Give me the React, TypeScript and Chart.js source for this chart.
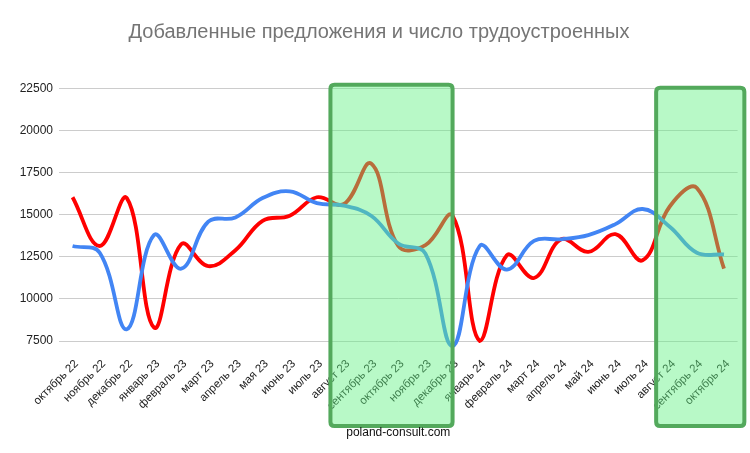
import React, { useEffect, useRef } from "react";
import { Chart, registerables } from "chart.js";

Chart.register(...registerables);

const TITLE = "Добавленные предложения и число трудоустроенных";
const CAPTION = "poland-consult.com";

const categories = [
  "октябрь 22", "ноябрь 22", "декабрь 22", "январь 23", "февраль 23", "март 23",
  "апрель 23", "мая 23", "июнь 23", "июль 23", "август 23", "сентябрь 23",
  "октябрь 23", "ноябрь 23", "декабрь 23", "январь 24", "февраль 24", "март 24",
  "апрель 24", "май 24", "июнь 24", "июль 24", "август 24", "сентябрь 24", "октябрь 24",
];

const offersAdded = [
  13150, 12750, 8200, 13800, 11800, 14600, 14850, 16000, 16400, 15700, 15550, 14950,
  13300, 12700, 7200, 13150, 11750, 13450, 13550, 13800, 14450, 15350, 14300, 12750, 12650,
];

const employed = [
  16050, 13150, 16000, 8300, 13250, 11950, 12900, 14650, 14950, 16050, 15650, 18050,
  13150, 13200, 14950, 7500, 12600, 11250, 13550, 12800, 13850, 12300, 15500, 16600, 11800,
];

const yTicks = [7500, 10000, 12500, 15000, 17500, 20000, 22500];

// highlighted ranges, in category-index units
const highlights = [
  { from: 9.5, to: 14.0, topOffset: 4 },
  { from: 21.5, to: 24.75, topOffset: 1 },
];

const FONT = "'Liberation Sans', Arial, sans-serif";

function roundRect(ctx: CanvasRenderingContext2D, x: number, y: number, w: number, h: number, r: number) {
  ctx.beginPath();
  ctx.moveTo(x + r, y);
  ctx.lineTo(x + w - r, y);
  ctx.quadraticCurveTo(x + w, y, x + w, y + r);
  ctx.lineTo(x + w, y + h - r);
  ctx.quadraticCurveTo(x + w, y + h, x + w - r, y + h);
  ctx.lineTo(x + r, y + h);
  ctx.quadraticCurveTo(x, y + h, x, y + h - r);
  ctx.lineTo(x, y + r);
  ctx.quadraticCurveTo(x, y, x + r, y);
  ctx.closePath();
}

const overlayPlugin = {
  id: "overlay",
  afterDraw(chart: any) {
    const ctx = chart.ctx as CanvasRenderingContext2D;
    const xs = chart.scales.x;
    const area = chart.chartArea;
    const step = xs.getPixelForValue(1) - xs.getPixelForValue(0);
    const x0 = xs.getPixelForValue(0);
    ctx.save();
    for (const h of highlights) {
      const left = x0 + h.from * step;
      const right = x0 + h.to * step;
      const top = area.top - h.topOffset;
      const bottom = chart.height - 27;
      roundRect(ctx, left, top, right - left, bottom - top, 4);
      ctx.fillStyle = "rgba(97,242,130,0.45)";
      ctx.fill();
      ctx.lineWidth = 4;
      ctx.strokeStyle = "#53a95c";
      ctx.stroke();
    }
    // title
    ctx.fillStyle = "#757575";
    ctx.font = "20px " + FONT;
    ctx.textAlign = "center";
    ctx.textBaseline = "middle";
    ctx.fillText(TITLE, chart.width / 2 + 4, 32);
    // caption
    ctx.fillStyle = "#111";
    ctx.font = "12px " + FONT;
    ctx.fillText(CAPTION, (area.left + area.right) / 2, chart.height - 20);
    ctx.restore();
  },
};

export default function App() {
  const ref = useRef<HTMLCanvasElement | null>(null);

  useEffect(() => {
    if (!ref.current) return;
    const chart = new Chart(ref.current, {
      type: "line",
      data: {
        labels: categories,
        datasets: [
          {
            label: "Добавленные предложения",
            data: offersAdded,
            borderColor: "#4285f4",
            borderWidth: 3.8,
            pointRadius: 0,
            tension: 0.4,
            fill: false,
            clip: false as any,
          },
          {
            label: "Трудоустроенные",
            data: employed,
            borderColor: "#ff0000",
            borderWidth: 3.8,
            pointRadius: 0,
            tension: 0.4,
            fill: false,
            clip: false as any,
          },
        ],
      },
      options: {
        responsive: false,
        animation: false,
        layout: { padding: { left: 0, right: 12, top: 0, bottom: 0 } },
        plugins: {
          legend: { display: false },
          tooltip: { enabled: false },
          title: {
            display: true,
            text: TITLE,
            color: "rgba(0,0,0,0)",
            font: { family: FONT, size: 19, weight: "normal" as any },
            padding: { top: 21, bottom: 45 },
          },
        },
        scales: {
          x: {
            offset: true,
            grid: { display: false, drawTicks: false },
            border: { display: false },
            ticks: {
              autoSkip: false,
              maxRotation: 45,
              minRotation: 45,
              padding: 16,
              labelOffset: 4,
              color: "#222",
              font: { family: FONT, size: 11.5 },
            },
            afterFit: (s: any) => {
              s.height = 112;
            },
          },
          y: {
            min: 7500,
            max: 22500,
            afterBuildTicks: (s: any) => {
              s.ticks = yTicks.map((v) => ({ value: v }));
            },
            grid: { color: "#cccccc", drawTicks: false, lineWidth: 1 },
            border: { display: false },
            ticks: {
              padding: 6,
              color: "#222",
              font: { family: FONT, size: 12 },
              callback: (v: any) => String(v),
            },
            afterFit: (s: any) => {
              s.width = 59;
            },
          },
        },
      },
      plugins: [overlayPlugin],
    });
    return () => chart.destroy();
  }, []);

  return (
    <div style={{ position: "absolute", left: 0, top: 0, width: 750, height: 453, background: "#fff" }}>
      <canvas ref={ref} width={750} height={453} style={{ display: "block" }} />
    </div>
  );
}
